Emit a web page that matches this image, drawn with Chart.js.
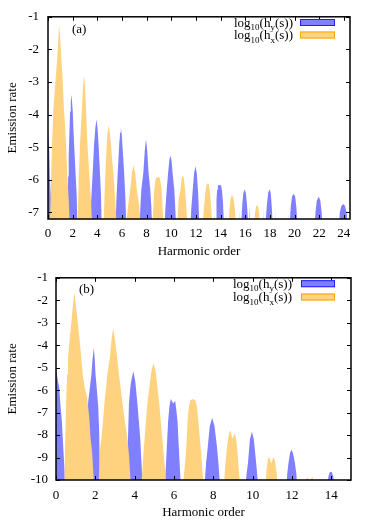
<!DOCTYPE html>
<html><head><meta charset="utf-8">
<script src="https://cdn.jsdelivr.net/npm/chart.js@4/dist/chart.umd.min.js"></script>
<style>
html,body{margin:0;padding:0;background:#fff;}
#wrap{position:relative;width:374px;height:523px;}
canvas{position:absolute;left:0;}
</style></head><body>
<div id="wrap">
<canvas id="ca" width="374" height="262" style="top:0;width:374px;height:262px"></canvas>
<canvas id="cb" width="374" height="261" style="top:262px;width:374px;height:261px"></canvas>
</div>
<script>
// ---- tick labels ----
const xTicksA = [0,2,4,6,8,10,12,14,16,18,20,22,24];
const yTicksA = [-1,-2,-3,-4,-5,-6,-7];
const xTicksB = [0,2,4,6,8,10,12,14];
const yTicksB = [-1,-2,-3,-4,-5,-6,-7,-8,-9,-10];

// ---- series (a): [harmonic order, log10 rate] ----
const hyA = [
 [0,-4.5],[0.05,-4.8],[0.1,-5.1],[0.15,-5.9],[0.2,-6.3],[0.27,-6.7],[0.33,-7.5],
 [1.6,-7.5],[1.63,-5.9],[1.68,-5.2],[1.71,-4.9],[1.79,-3.9],[1.85,-3.6],[1.9,-3.39],[1.95,-3.6],[2.01,-3.9],[2.07,-4.5],[2.12,-4.9],[2.25,-5.9],[2.33,-6.5],[2.39,-7.5],
 [3.42,-7.5],[3.52,-6.5],[3.61,-5.9],[3.74,-4.9],[3.84,-4.4],[3.93,-4.15],[4.02,-4.4],[4.1,-4.9],[4.23,-5.9],[4.3,-6.5],[4.36,-7.5],
 [5.48,-7.5],[5.55,-6.6],[5.64,-5.9],[5.78,-4.9],[5.85,-4.55],[5.91,-4.38],[5.98,-4.6],[6.05,-5.0],[6.18,-5.8],[6.27,-6.5],[6.36,-7.5],
 [7.42,-7.5],[7.5,-6.8],[7.57,-6.3],[7.73,-5.8],[7.85,-5.1],[7.95,-4.75],[8.05,-5.1],[8.16,-5.8],[8.3,-6.3],[8.38,-6.8],[8.46,-7.5],
 [9.45,-7.5],[9.52,-6.9],[9.63,-6.31],[9.74,-5.8],[9.84,-5.4],[9.93,-5.25],[10.02,-5.4],[10.11,-5.8],[10.25,-6.31],[10.33,-6.9],[10.4,-7.5],
 [11.55,-7.5],[11.62,-6.9],[11.74,-6.31],[11.85,-5.8],[11.96,-5.58],[12.07,-5.8],[12.18,-6.4],[12.24,-7.0],[12.27,-7.5],[12.29,-6.76],[12.33,-7.5],
 [13.48,-7.5],[13.52,-6.98],[13.56,-7.5],
 [13.63,-7.5],[13.67,-6.6],[13.72,-6.3],[13.78,-6.17],[13.91,-6.16],[14.05,-6.17],[14.12,-6.35],[14.2,-6.7],[14.28,-7.5],[14.48,-7.5],[14.51,-6.97],[14.55,-7.5],
 [15.5,-7.5],[15.54,-6.9],[15.58,-7.5],[15.68,-7.3],[15.76,-6.75],[15.85,-6.4],[15.95,-6.29],[16.05,-6.4],[16.14,-6.75],[16.22,-7.2],[16.3,-7.5],[16.33,-6.76],[16.38,-7.5],
 [17.45,-7.5],[17.49,-6.85],[17.53,-7.5],[17.65,-7.3],[17.76,-6.75],[17.87,-6.38],[17.98,-6.29],[18.07,-6.4],[18.15,-6.8],[18.25,-7.5],[18.38,-7.5],[18.41,-6.85],[18.45,-7.5],
 [19.44,-7.5],[19.47,-7.0],[19.51,-7.5],[19.61,-7.3],[19.7,-6.8],[19.8,-6.5],[19.93,-6.43],[20.05,-6.5],[20.15,-6.85],[20.26,-7.5],
 [21.62,-7.5],[21.7,-7.0],[21.8,-6.65],[21.97,-6.51],[22.1,-6.65],[22.2,-7.0],[22.28,-7.5],
 [23.6,-7.5],[23.67,-7.0],[23.8,-6.8],[23.95,-6.74],[24.1,-6.8],[24.22,-7.0],[24.35,-7.5]
];
const hxA = [
 [0.15,-7.5],[0.25,-6.0],[0.33,-4.9],[0.43,-3.9],[0.52,-3.4],[0.62,-2.9],[0.72,-2.4],[0.81,-1.9],[0.86,-1.5],[0.9,-1.26],[0.96,-1.5],[1.03,-1.9],[1.1,-2.4],[1.19,-2.9],[1.3,-3.9],[1.38,-4.3],[1.46,-4.9],[1.57,-5.9],[1.68,-6.6],[1.78,-7.5],
 [2.38,-7.5],[2.5,-5.9],[2.6,-4.9],[2.74,-3.9],[2.85,-3.1],[2.93,-2.81],[3.0,-3.1],[3.09,-3.9],[3.2,-4.9],[3.36,-5.9],[3.48,-6.6],[3.6,-7.5],
 [4.5,-7.5],[4.64,-5.9],[4.77,-4.9],[4.84,-4.5],[4.91,-4.33],[5.0,-4.5],[5.1,-4.9],[5.32,-5.9],[5.45,-6.6],[5.59,-7.5],
 [6.3,-7.5],[6.5,-6.8],[6.67,-6.3],[6.8,-5.8],[6.94,-5.55],[7.08,-5.8],[7.21,-6.3],[7.4,-6.8],[7.55,-7.5],
 [8.45,-7.5],[8.62,-6.3],[8.72,-6.0],[8.8,-5.92],[9.05,-5.92],[9.12,-6.05],[9.22,-6.3],[9.38,-7.5],
 [10.48,-7.5],[10.6,-6.6],[10.74,-6.31],[10.85,-5.95],[10.93,-5.85],[11.02,-5.95],[11.12,-6.31],[11.2,-6.7],[11.33,-7.5],
 [12.52,-7.5],[12.64,-6.9],[12.76,-6.4],[12.87,-6.15],[12.96,-6.1],[13.05,-6.15],[13.15,-6.4],[13.24,-6.9],[13.35,-7.5],
 [14.65,-7.5],[14.72,-6.9],[14.8,-6.6],[14.92,-6.46],[15.04,-6.55],[15.15,-6.85],[15.28,-7.5],
 [16.72,-7.5],[16.8,-7.0],[16.88,-6.8],[16.95,-6.76],[17.03,-6.8],[17.12,-7.0],[17.2,-7.5],
 [18.85,-7.5],[18.93,-7.13],[19.0,-7.5]
];

// ---- series (b) ----
const hyB = [
 [0,-5.0],[0.08,-5.5],[0.17,-5.9],[0.22,-6.6],[0.3,-7.4],[0.36,-8.4],[0.43,-9.5],[0.47,-10.5],
 [1.52,-10.5],[1.58,-7.3],[1.64,-6.5],[1.72,-5.9],[1.8,-5.3],[1.86,-4.6],[1.92,-4.12],[1.97,-4.6],[2.01,-5.3],[2.08,-6.0],[2.15,-6.8],[2.2,-8.0],[2.24,-10.5],
 [3.6,-10.5],[3.65,-8.5],[3.71,-6.6],[3.8,-5.7],[3.93,-5.15],[4.03,-5.6],[4.14,-6.6],[4.28,-8.1],[4.42,-10.5],
 [5.52,-10.5],[5.62,-8.8],[5.7,-7.4],[5.77,-6.7],[5.84,-6.4],[5.96,-6.6],[6.06,-6.47],[6.12,-6.9],[6.18,-7.4],[6.26,-8.8],[6.36,-10.5],
 [7.53,-10.5],[7.63,-9.26],[7.72,-8.5],[7.82,-7.6],[7.94,-7.23],[8.06,-7.6],[8.18,-8.5],[8.26,-9.26],[8.36,-10.5],
 [9.6,-10.5],[9.68,-9.8],[9.76,-9.26],[9.86,-8.2],[9.96,-7.84],[10.06,-8.2],[10.18,-9.26],[10.3,-10.5],
 [11.7,-10.5],[11.76,-9.7],[11.82,-9.26],[11.9,-8.8],[11.97,-8.65],[12.05,-8.8],[12.15,-9.26],[12.22,-9.7],[12.28,-10.5],
 [13.78,-10.5],[13.85,-9.85],[13.92,-9.66],[13.97,-9.63],[14.03,-9.66],[14.1,-9.85],[14.16,-10.5]
];
const hxB = [
 [0.42,-10.5],[0.46,-8.5],[0.51,-6.8],[0.56,-5.3],[0.61,-4.6],[0.68,-3.85],[0.77,-3.1],[0.85,-2.3],[0.94,-1.65],[1.02,-2.3],[1.12,-3.1],[1.21,-3.85],[1.29,-4.6],[1.36,-5.3],[1.46,-5.9],[1.58,-6.3],[1.7,-7.3],[1.75,-8.1],[1.84,-8.8],[1.95,-10.5],
 [2.15,-10.5],[2.25,-8.5],[2.32,-8.1],[2.44,-6.8],[2.61,-5.3],[2.73,-4.6],[2.83,-3.7],[2.91,-3.26],[2.99,-3.7],[3.12,-4.6],[3.2,-5.3],[3.3,-6.0],[3.41,-6.8],[3.52,-7.5],[3.63,-8.1],[3.72,-9.0],[3.82,-10.5],
 [4.32,-10.5],[4.45,-8.8],[4.57,-7.4],[4.66,-6.5],[4.74,-5.9],[4.86,-5.1],[4.96,-4.82],[5.06,-5.1],[5.16,-5.9],[5.25,-6.6],[5.33,-7.4],[5.47,-8.8],[5.64,-10.5],
 [6.43,-10.5],[6.61,-8.8],[6.69,-7.4],[6.76,-6.7],[6.84,-6.45],[6.95,-6.4],[7.08,-6.45],[7.16,-6.7],[7.24,-7.4],[7.38,-8.8],[7.52,-10.5],
 [8.52,-10.5],[8.6,-9.4],[8.7,-8.5],[8.79,-7.95],[8.86,-7.79],[8.97,-8.16],[9.1,-7.91],[9.18,-8.3],[9.25,-9.0],[9.38,-10.5],
 [10.63,-10.5],[10.7,-9.6],[10.77,-9.1],[10.83,-8.97],[10.95,-9.26],[11.07,-8.97],[11.14,-9.2],[11.22,-9.7],[11.3,-10.5],
 [12.7,-10.5],[12.75,-9.95],[12.79,-9.85],[12.84,-9.95],[12.9,-10.05],[12.97,-9.95],[13.03,-9.85],[13.08,-9.95],[13.14,-10.5]
];

const FONT = '"Liberation Serif", "DejaVu Serif", serif';
const BLUE_FILL = '#8080ff', BLUE_LINE = '#2020ff';
const ORANGE_FILL = '#ffd280', ORANGE_LINE = '#ffa500';

function toPts(arr){ return arr.map(([x,y]) => ({x, y})); }

function framePlugin(cfg){
  return {
    id: 'frame',
    afterDraw(chart){
      const {ctx, chartArea: a, scales: {x, y}} = chart;
      ctx.save();
      // inward ticks on all four sides
      ctx.strokeStyle = '#000'; ctx.lineWidth = 1;
      ctx.beginPath();
      x.ticks.forEach(t => {
        const p = Math.round(x.getPixelForValue(t.value)) + 0.5;
        ctx.moveTo(p, a.bottom); ctx.lineTo(p, a.bottom - 4);
        ctx.moveTo(p, a.top); ctx.lineTo(p, a.top + 4);
      });
      y.ticks.forEach(t => {
        const p = Math.round(y.getPixelForValue(t.value)) + 0.5;
        ctx.moveTo(a.left, p); ctx.lineTo(a.left + 4, p);
        ctx.moveTo(a.right, p); ctx.lineTo(a.right - 4, p);
      });
      ctx.stroke();
      ctx.lineWidth = 1.5;
      ctx.strokeRect(a.left, a.top, a.right - a.left, a.bottom - a.top);
      // panel label
      ctx.fillStyle = '#000';
      ctx.font = '13px ' + FONT;
      ctx.textAlign = 'left'; ctx.textBaseline = 'middle';
      ctx.fillText(cfg.panel, cfg.panelX, cfg.panelY);
      // legend with subscripts
      cfg.rows.forEach(r => {
        const parts = [['log',13,0],['10',9,3.5],['(h',13,0],[r.sub,9,3.5],['(s))',13,0]];
        let w = 0;
        parts.forEach(p => { ctx.font = p[1] + 'px ' + FONT; w += ctx.measureText(p[0]).width; });
        let xx = cfg.textRight - w;
        const base = r.cy + 4;
        ctx.textBaseline = 'alphabetic'; ctx.fillStyle = '#000';
        parts.forEach(p => { ctx.font = p[1] + 'px ' + FONT; ctx.fillText(p[0], xx, base + p[2]); xx += ctx.measureText(p[0]).width; });
        ctx.fillStyle = r.fill;
        ctx.fillRect(cfg.boxL, r.cy - 3.5, cfg.boxR - cfg.boxL, 7);
        ctx.strokeStyle = r.line; ctx.lineWidth = 1;
        ctx.strokeRect(cfg.boxL + 0.5, r.cy - 3, cfg.boxR - cfg.boxL - 1, 6);
      });
      ctx.restore();
    }
  };
}

function makeChart(id, hy, hx, xTicks, yTicks, o){
  return new Chart(document.getElementById(id), {
    type: 'line',
    data: {
      datasets: [
        {label: 'log10(hy(s))', data: toPts(hy), fill: 'start', backgroundColor: BLUE_FILL,
         borderWidth: 0, borderColor: 'rgba(0,0,0,0)', pointRadius: 0, tension: 0, order: 2, clip: 0},
        {label: 'log10(hx(s))', data: toPts(hx), fill: 'start', backgroundColor: ORANGE_FILL,
         borderWidth: 0, borderColor: 'rgba(0,0,0,0)', pointRadius: 0, tension: 0, order: 1, clip: 0}
      ]
    },
    options: {
      responsive: false, animation: false, devicePixelRatio: 1,
      layout: {padding: {left: 0, top: o.padTop, right: o.padRight, bottom: 0}},
      plugins: {legend: {display: false}, tooltip: {enabled: false}},
      scales: {
        x: {
          type: 'linear', min: o.xmin, max: o.xmax,
          grid: {display: false, drawTicks: false, tickLength: 0}, border: {display: false},
          afterBuildTicks: s => { s.ticks = xTicks.map(v => ({value: v})); },
          afterFit: s => { s.height = o.xAxisH; },
          ticks: {color: '#000', font: {family: FONT, size: 13}, padding: o.xTickPad, maxRotation: 0, autoSkip: false},
          title: {display: true, text: 'Harmonic order', color: '#000', font: {family: FONT, size: 13}, padding: {top: 0, bottom: 2.5}}
        },
        y: {
          type: 'linear', min: o.ymin, max: o.ymax,
          grid: {display: false, drawTicks: false, tickLength: 0}, border: {display: false},
          afterBuildTicks: s => { s.ticks = yTicks.map(v => ({value: v})); },
          afterFit: s => { s.width = o.yAxisW; },
          ticks: {color: '#000', font: {family: FONT, size: 13}, padding: o.yTickPad, autoSkip: false},
          title: {display: true, text: 'Emission rate', color: '#000', font: {family: FONT, size: 13}, padding: {top: 4.7, bottom: 0}}
        }
      }
    },
    plugins: [framePlugin(o.frame)]
  });
}

makeChart('ca', hyA, hxA, xTicksA, yTicksA, {
  xmin: 0, xmax: 24.5, ymin: -7.2, ymax: -1,
  padTop: 14, padRight: 24, xAxisH: 43, yAxisW: 48, xTickPad: 6.5, yTickPad: 9,
  frame: {panel: '(a)', panelX: 72, panelY: 30, textRight: 293, boxL: 300, boxR: 335,
    rows: [{sub: 'y', cy: 22.5, fill: BLUE_FILL, line: BLUE_LINE}, {sub: 'x', cy: 35, fill: ORANGE_FILL, line: ORANGE_LINE}]}
});
makeChart('cb', hyB, hxB, xTicksB, yTicksB, {
  xmin: 0, xmax: 15, ymin: -10, ymax: -1,
  padTop: 14, padRight: 23, xAxisH: 43, yAxisW: 56, xTickPad: 8, yTickPad: 8,
  frame: {panel: '(b)', panelX: 79, panelY: 28, textRight: 292, boxL: 301, boxR: 335,
    rows: [{sub: 'y', cy: 21.7, fill: BLUE_FILL, line: BLUE_LINE}, {sub: 'x', cy: 35, fill: ORANGE_FILL, line: ORANGE_LINE}]}
});
</script>
</body></html>
